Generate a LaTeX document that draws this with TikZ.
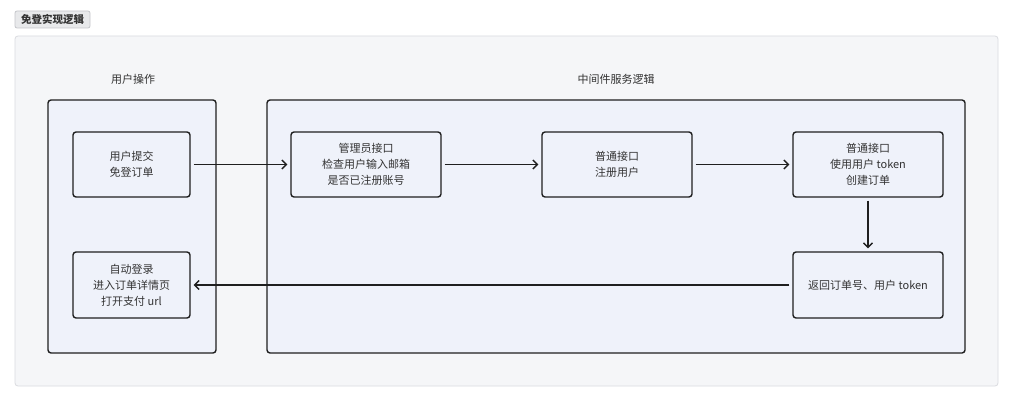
\documentclass[tikz,border=0pt]{standalone}
\usepackage{fontspec}
\newfontfamily\cjk{Noto Sans CJK SC}
\usetikzlibrary{arrows.meta}
\definecolor{outerfill}{HTML}{F5F6F8}
\definecolor{outerline}{HTML}{DADCE0}
\definecolor{groupfill}{HTML}{EFF2FA}
\definecolor{lineclr}{HTML}{1F1F1F}
\definecolor{txt}{HTML}{333333}
\definecolor{tagfill}{HTML}{E8E9EB}
\definecolor{tagline}{HTML}{C4C6CA}
\tikzset{
  grp/.style={draw=lineclr, line width=1.4pt, fill=groupfill, rounded corners=3pt, inner sep=0pt},
  stepbox/.style={draw=lineclr, line width=1.4pt, fill=groupfill, rounded corners=3pt, inner sep=0pt,
    align=center, text=txt, font=\cjk\fontsize{11}{16}\selectfont},
  lbl/.style={text=txt, font=\cjk\fontsize{11}{14}\selectfont, inner sep=0pt},
  conn/.style={draw=lineclr, line width=1.3pt, -{Straight Barb[length=4.5pt,width=9pt,line width=1.3pt]}, shorten >=3pt, shorten <=3pt}
}
\begin{document}
\begin{tikzpicture}[x=1pt,y=-1pt]
\useasboundingbox (0,0) rectangle (1024,414);
\fill[white] (0,0) rectangle (1024,414);
% title tag
\node[draw=tagline, line width=0.8pt, fill=tagfill, rounded corners=2pt, inner sep=0pt,
  minimum width=75pt, minimum height=17pt, text=txt, font=\cjk\bfseries\fontsize{10.5}{12}\selectfont] (tag) at (52.5,19.5) {免登实现逻辑};
% outer container
\node[draw=outerline, line width=0.8pt, fill=outerfill, rounded corners=3pt, inner sep=0pt,
  minimum width=983pt, minimum height=350pt] (outer) at (506.5,211) {};
% groups
\node[grp, minimum width=168pt, minimum height=253pt] (gleft) at (132,226.5) {};
\node[grp, minimum width=698pt, minimum height=253pt] (gright) at (616,226.5) {};
\node[lbl] (lleft) at (133,79) {用户操作};
\node[lbl] (lright) at (616,79) {中间件服务逻辑};
% boxes
\node[stepbox, minimum width=117pt, minimum height=65pt] (submit) at (131.5,164.5) {用户提交\\免登订单};
\node[stepbox, minimum width=117pt, minimum height=66pt] (login) at (131.5,285) {自动登录\\进入订单详情页\\打开支付 url};
\node[stepbox, minimum width=150pt, minimum height=65pt] (admin) at (366,164.5) {管理员接口\\检查用户输入邮箱\\是否已注册账号};
\node[stepbox, minimum width=150pt, minimum height=65pt] (reg) at (617,164.5) {普通接口\\注册用户};
\node[stepbox, minimum width=150pt, minimum height=65pt] (create) at (868,164.5) {普通接口\\使用用户 token\\创建订单};
\node[stepbox, minimum width=150pt, minimum height=66pt] (ret) at (868,285) {返回订单号、用户 token};
% connectors
\draw[conn] (submit) -- (admin);
\draw[conn] (admin) -- (reg);
\draw[conn] (reg) -- (create);
\draw[conn] (create) -- (ret);
\draw[conn] (ret) -- (login);
\end{tikzpicture}
\end{document}
